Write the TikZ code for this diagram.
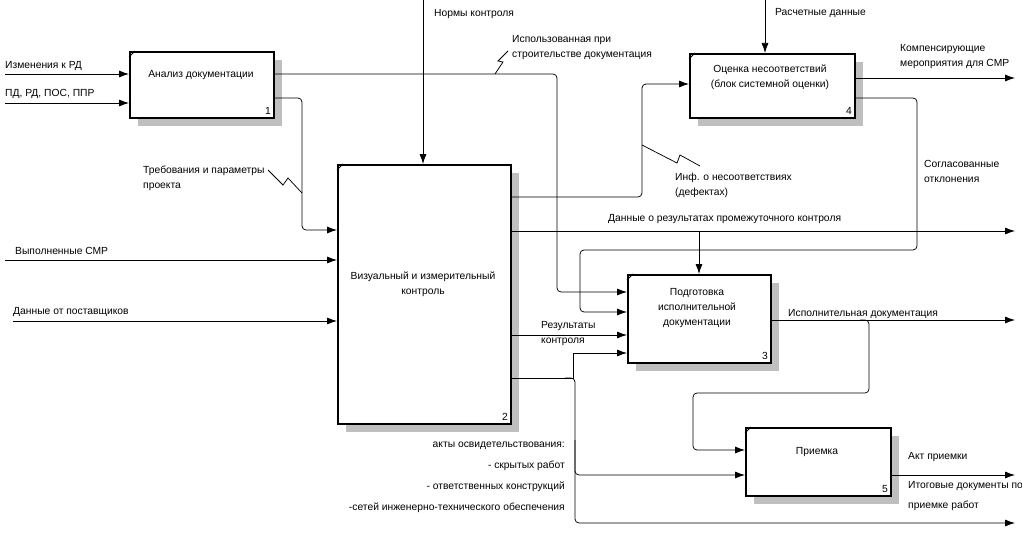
\documentclass[tikz,border=0pt]{standalone}
\usepackage{fontspec}
\setmainfont{Liberation Sans}
\usetikzlibrary{arrows.meta}
\begin{document}
\begin{tikzpicture}[x=1pt,y=-1pt,
  every node/.style={font=\fontsize{10.3}{15}\selectfont, inner sep=0pt},
  box/.style={draw, line width=2pt, fill=white, anchor=north west, inner sep=0pt},
  shade/.style={fill=gray!50, draw=none},
  tick/.style={line width=0.9pt},
  flow/.style={line width=0.75pt, rounded corners=4pt, -{Latex[length=10pt,width=7pt]}},
  squig/.style={line width=0.75pt},
  lbl/.style={anchor=west, align=left},
  btxt/.style={align=center},
  num/.style={anchor=south east},
]
\useasboundingbox (0,0) rectangle (1022,535);

% shadows
\fill[shade] (138,60) rectangle (282,126);
\fill[shade] (346,173) rectangle (519,432);
\fill[shade] (636,283) rectangle (779,371);
\fill[shade] (698,62) rectangle (863,126);
\fill[shade] (754,436) rectangle (899,504);

% boxes
\node[box, minimum width=144pt, minimum height=66pt] (b1) at (129,51) {};
\node[box, minimum width=173pt, minimum height=259pt] (b2) at (337,164) {};
\node[box, minimum width=143pt, minimum height=88pt] (b3) at (627,274) {};
\node[box, minimum width=165pt, minimum height=64pt] (b4) at (689,53) {};
\node[box, minimum width=145pt, minimum height=68pt] (b5) at (745,427) {};

\foreach \b in {b1,b2,b3,b4,b5}{
  \draw[tick] ([yshift=-6pt]\b.north west) -- ([xshift=6pt]\b.north west);
}

% box texts
\node[btxt] (t1) at (201,75) {Анализ документации};
\node[btxt] (t2) at (423,284) {Визуальный и измерительный\\контроль};
\node[btxt] (t3) at (697,308) {Подготовка\\исполнительной\\документации};
\node[btxt] (t4) at (770,77) {Оценка несоответствий\\(блок системной оценки)};
\node[btxt] (t5) at (817,452) {Приемка};
\node[num] (n1) at ([xshift=-4pt,yshift=4pt]b1.south east) {1};
\node[num] (n2) at ([xshift=-4pt,yshift=4pt]b2.south east) {2};
\node[num] (n3) at ([xshift=-4pt,yshift=4pt]b3.south east) {3};
\node[num] (n4) at ([xshift=-4pt,yshift=4pt]b4.south east) {4};
\node[num] (n5) at ([xshift=-4pt,yshift=4pt]b5.south east) {5};

% free ends
\coordinate (i1) at (5,74);
\coordinate (i2) at (5,103);
\coordinate (i3) at (5,260);
\coordinate (i4) at (13,321);
\coordinate (c1) at (423,0);
\coordinate (c2) at (765,0);
\coordinate (o1) at (1015,231);
\coordinate (o2) at (1015,78);
\coordinate (o3) at (1015,320);
\coordinate (o4) at (1015,475);
\coordinate (o5) at (1015,523);

% inputs
\draw[flow] (i1) -- (b1.west |- i1);
\draw[flow] (i2) -- (b1.west |- i2);
\draw[flow] (i3) -- (b2.west |- i3);
\draw[flow] (i4) -- (b2.west |- i4);
\draw[flow] (c1) -- (b2.north -| c1);
\draw[flow] (c2) -- (b4.north -| c2);

% box 1 outputs
\draw[flow] (b1.east |- 0,74) -- (557,74) -- (557,292) -- (b3.west |- 0,292);
\draw[flow] (b1.east |- 0,98) -- (302,98) -- (302,230) -- (b2.west |- 0,230);

% box 2 outputs
\draw[flow] (b2.east |- 0,197) -- (642,197) -- (642,84) -- (b4.west |- 0,84);
\draw[flow] (b2.east |- o1) -- (o1);
\draw[flow] (699,231) -- (b3.north -| 699,0);
\draw[flow] (b2.east |- 0,335) -- (b3.west |- 0,335);
\draw[flow, rounded corners=0pt] (b2.east |- 0,378) -- (573,378) -- (573,353) -- (b3.west |- 0,353);
\draw[flow] (565,378) -- (575,378) -- (575,475) -- (b5.west |- 0,475);
\draw[flow] (575,440) -- (575,523) -- (o5);

% box 4 outputs
\draw[flow] (b4.east |- o2) -- (o2);
\draw[flow] (b4.east |- 0,98) -- (917,98) -- (917,250) -- (580,250) -- (580,312) -- (b3.west |- 0,312);

% box 3 outputs
\draw[flow] (b3.east |- o3) -- (o3);
\draw[flow] (860,320) -- (869,320) -- (869,393) -- (693,393) -- (693,450) -- (b5.west |- 0,450);

% box 5 output
\draw[flow] (b5.east |- o4) -- (o4);

% squiggles
\draw[squig] (268,170) -- (283,185) -- (288,178) -- (302,193);
\draw[squig] (495,74) -- (503,62) -- (498,61) -- (508,51);
\draw[squig] (642,145) -- (677,163) -- (680,155) -- (700,166);

% labels
\node[lbl] (l1) at (5,66) {Изменения к РД};
\node[lbl] (l2) at (5,94) {ПД, РД, ПОС, ППР};
\node[lbl] (l3) at (143,178) {Требования и параметры\\проекта};
\node[lbl] (l4) at (434,14) {Нормы контроля};
\node[lbl] (l5) at (512,48) {Использованная при\\строительстве документация};
\node[lbl] (l6) at (775,13) {Расчетные данные};
\node[lbl] (l7) at (900,57) {Компенсирующие\\мероприятия для СМР};
\node[lbl] (l8) at (675,185) {Инф. о несоответствиях\\(дефектах)};
\node[lbl] (l9) at (924,171) {Согласованные\\отклонения};
\node[lbl] (l10) at (608,219) {Данные о результатах промежуточного контроля};
\node[lbl] (l11) at (15,251) {Выполненные СМР};
\node[lbl] (l12) at (13,312) {Данные от поставщиков};
\node[lbl] (l13) at (541,334) {Результаты\\контроля};
\node[lbl] (l14) at (788,314) {Исполнительная документация};
\node[anchor=north east, align=right, font=\fontsize{10.3}{21}\selectfont] (l15) at (565,442) {акты освидетельствования:\\- скрытых работ\\- ответственных конструкций\\-сетей инженерно-технического обеспечения};
\node[lbl] (l16) at (908,457) {Акт приемки};
\node[anchor=north west, align=left, font=\fontsize{10.3}{20}\selectfont] (l17) at (908,481) {Итоговые документы по\\приемке работ};
\end{tikzpicture}
\end{document}
